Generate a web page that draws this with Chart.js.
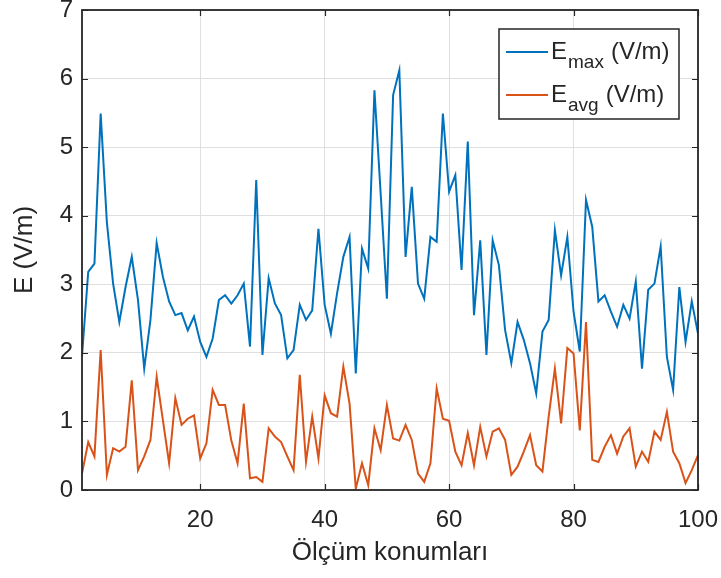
<!DOCTYPE html>
<html>
<head>
<meta charset="utf-8">
<script src="https://cdn.jsdelivr.net/npm/chart.js@4"></script>
<style>
body{margin:0;background:#fff}
#kutu{width:721px;height:578px}
</style>
</head>
<body>
<div id="kutu"><canvas id="grafik"></canvas></div>
<script>
// olcum degerleri
const eMax = [1.95,3.18,3.30,5.49,3.90,3.01,2.45,2.96,3.40,2.77,
  1.77,2.48,3.60,3.11,2.75,2.55,2.58,2.33,2.53,2.16,
  1.94,2.21,2.77,2.84,2.72,2.84,3.01,2.09,4.52,1.97,
  3.09,2.72,2.55,1.92,2.04,2.70,2.48,2.62,3.81,2.70,
  2.28,2.87,3.40,3.69,1.70,3.52,3.23,5.83,4.32,2.79,
  5.76,6.12,3.40,4.42,3.01,2.79,3.69,3.62,5.49,4.35,
  4.59,3.21,5.08,2.55,3.64,1.97,3.64,3.28,2.33,1.85,
  2.45,2.19,1.85,1.41,2.31,2.48,3.79,3.13,3.69,2.60,
  2.02,4.23,3.84,2.75,2.84,2.60,2.38,2.70,2.50,3.04,
  1.77,2.92,3.01,3.55,1.94,1.46,2.96,2.16,2.75,2.28]
const eAvg = [0.24,0.70,0.49,2.04,0.22,0.61,0.56,0.63,1.60,0.29,
  0.49,0.73,1.65,1.02,0.39,1.34,0.95,1.04,1.09,0.46,
  0.68,1.46,1.24,1.24,0.72,0.39,1.26,0.17,0.19,0.12,
  0.90,0.78,0.70,0.49,0.29,1.68,0.41,1.07,0.46,1.38,
  1.12,1.07,1.80,1.26,0.02,0.39,0.07,0.90,0.58,1.24,
  0.75,0.72,0.95,0.73,0.24,0.12,0.39,1.48,1.04,1.01,
  0.56,0.36,0.83,0.36,0.92,0.49,0.85,0.90,0.73,0.22,
  0.34,0.56,0.80,0.36,0.27,1.07,1.77,0.97,2.07,1.99,
  0.87,2.45,0.44,0.41,0.63,0.80,0.53,0.78,0.90,0.34,
  0.56,0.41,0.85,0.73,1.14,0.56,0.39,0.10,0.29,0.51]
const xTicks = [20,40,60,80,100]
const yTicks = [0,1,2,3,4,5,6,7]

const mavi = '#0072BD'
const turuncu = '#D95319'
const eksenRengi = '#262626'
const yazi = '"Liberation Sans", Arial, sans-serif'

// konum numarasi 1'den baslar
const noktalar = (dizi) => dizi.map((v, i) => ({x: i + 1, y: v}))

// kutu ve iceri dogru tik cizgileri (matlab gibi)
const kutuCiz = {
  id: 'kutuCiz',
  afterDatasetsDraw(chart){
    const {ctx, chartArea: a, scales: {x, y}} = chart
    ctx.save()
    ctx.strokeStyle = eksenRengi
    ctx.lineWidth = 1.2
    ctx.beginPath()
    xTicks.forEach(v => {
      const px = Math.round(x.getPixelForValue(v)) + 0.5
      ctx.moveTo(px, a.bottom); ctx.lineTo(px, a.bottom - 6)
      ctx.moveTo(px, a.top); ctx.lineTo(px, a.top + 6)
    })
    yTicks.forEach(v => {
      const py = Math.round(y.getPixelForValue(v)) + 0.5
      ctx.moveTo(a.left, py); ctx.lineTo(a.left + 6, py)
      ctx.moveTo(a.right, py); ctx.lineTo(a.right - 6, py)
    })
    ctx.stroke()
    ctx.lineWidth = 1.8
    ctx.strokeRect(a.left, a.top, a.right - a.left, a.bottom - a.top)
    ctx.restore()
  }
}

// alt indisli lejant
const lejant = {
  id: 'lejant',
  afterDraw(chart){
    const {ctx, chartArea: a} = chart
    const sag = a.right - 19, ust = a.top + 19
    const gen = 180, yuk = 90
    const sol = sag - gen
    ctx.save()
    ctx.fillStyle = '#fff'
    ctx.fillRect(sol, ust, gen, yuk)
    ctx.strokeStyle = eksenRengi
    ctx.lineWidth = 1.5
    ctx.strokeRect(sol, ust, gen, yuk)
    const satirlar = [
      {renk: mavi, alt: 'max', yc: ust + 23},
      {renk: turuncu, alt: 'avg', yc: ust + 66}
    ]
    satirlar.forEach(s => {
      ctx.strokeStyle = s.renk
      ctx.lineWidth = 2
      ctx.beginPath()
      ctx.moveTo(sol + 7, s.yc); ctx.lineTo(sol + 49, s.yc)
      ctx.stroke()
      ctx.fillStyle = eksenRengi
      ctx.textBaseline = 'alphabetic'
      let tx = sol + 52
      ctx.font = '24px ' + yazi
      ctx.fillText('E', tx, s.yc + 7)
      tx += ctx.measureText('E').width + 1
      ctx.font = '19px ' + yazi
      ctx.fillText(s.alt, tx, s.yc + 16)
      tx += ctx.measureText(s.alt).width + 7
      ctx.font = '24px ' + yazi
      ctx.fillText('(V/m)', tx, s.yc + 7)
    })
    ctx.restore()
  }
}

const canvas = document.getElementById('grafik')
const grafik = new Chart(canvas, {
  type: 'line',
  data: {
    datasets: [
      {label: 'Emax (V/m)', data: noktalar(eMax), borderColor: mavi, borderWidth: 2, pointRadius: 0, tension: 0},
      {label: 'Eavg (V/m)', data: noktalar(eAvg), borderColor: turuncu, borderWidth: 2, pointRadius: 0, tension: 0}
    ]
  },
  options: {
    responsive: true,
    maintainAspectRatio: false,
    animation: false,
    layout: {padding: {top: 10, right: 23, left: 0, bottom: 0}},
    plugins: {legend: {display: false}, tooltip: {enabled: false}},
    scales: {
      x: {
        type: 'linear', min: 1, max: 100,
        afterBuildTicks: (s) => { s.ticks = xTicks.map(v => ({value: v})) },
        afterFit: (s) => { s.height = 88; s.paddingLeft = 0; s.paddingRight = 0 },
        grid: {color: '#dfdfdf', lineWidth: 1, drawTicks: false},
        border: {display: false},
        ticks: {color: eksenRengi, font: {size: 24, family: yazi}, padding: 16, maxRotation: 0},
        title: {display: true, text: 'Ölçüm konumları', color: eksenRengi,
          font: {size: 26, family: yazi, lineHeight: 1}, padding: {bottom: 12, top: 0}}
      },
      y: {
        min: 0, max: 7,
        afterBuildTicks: (s) => { s.ticks = yTicks.map(v => ({value: v})) },
        afterFit: (s) => { s.width = 82; s.paddingTop = 0; s.paddingBottom = 0 },
        grid: {color: '#dfdfdf', lineWidth: 1, drawTicks: false},
        border: {display: false},
        ticks: {color: eksenRengi, font: {size: 24, family: yazi}, padding: 9},
        title: {display: true, text: 'E (V/m)', color: eksenRengi,
          font: {size: 26, family: yazi, lineHeight: 1}, padding: {top: 12, bottom: 0}}
      }
    }
  },
  plugins: [kutuCiz, lejant]
})
</script>
</body>
</html>
